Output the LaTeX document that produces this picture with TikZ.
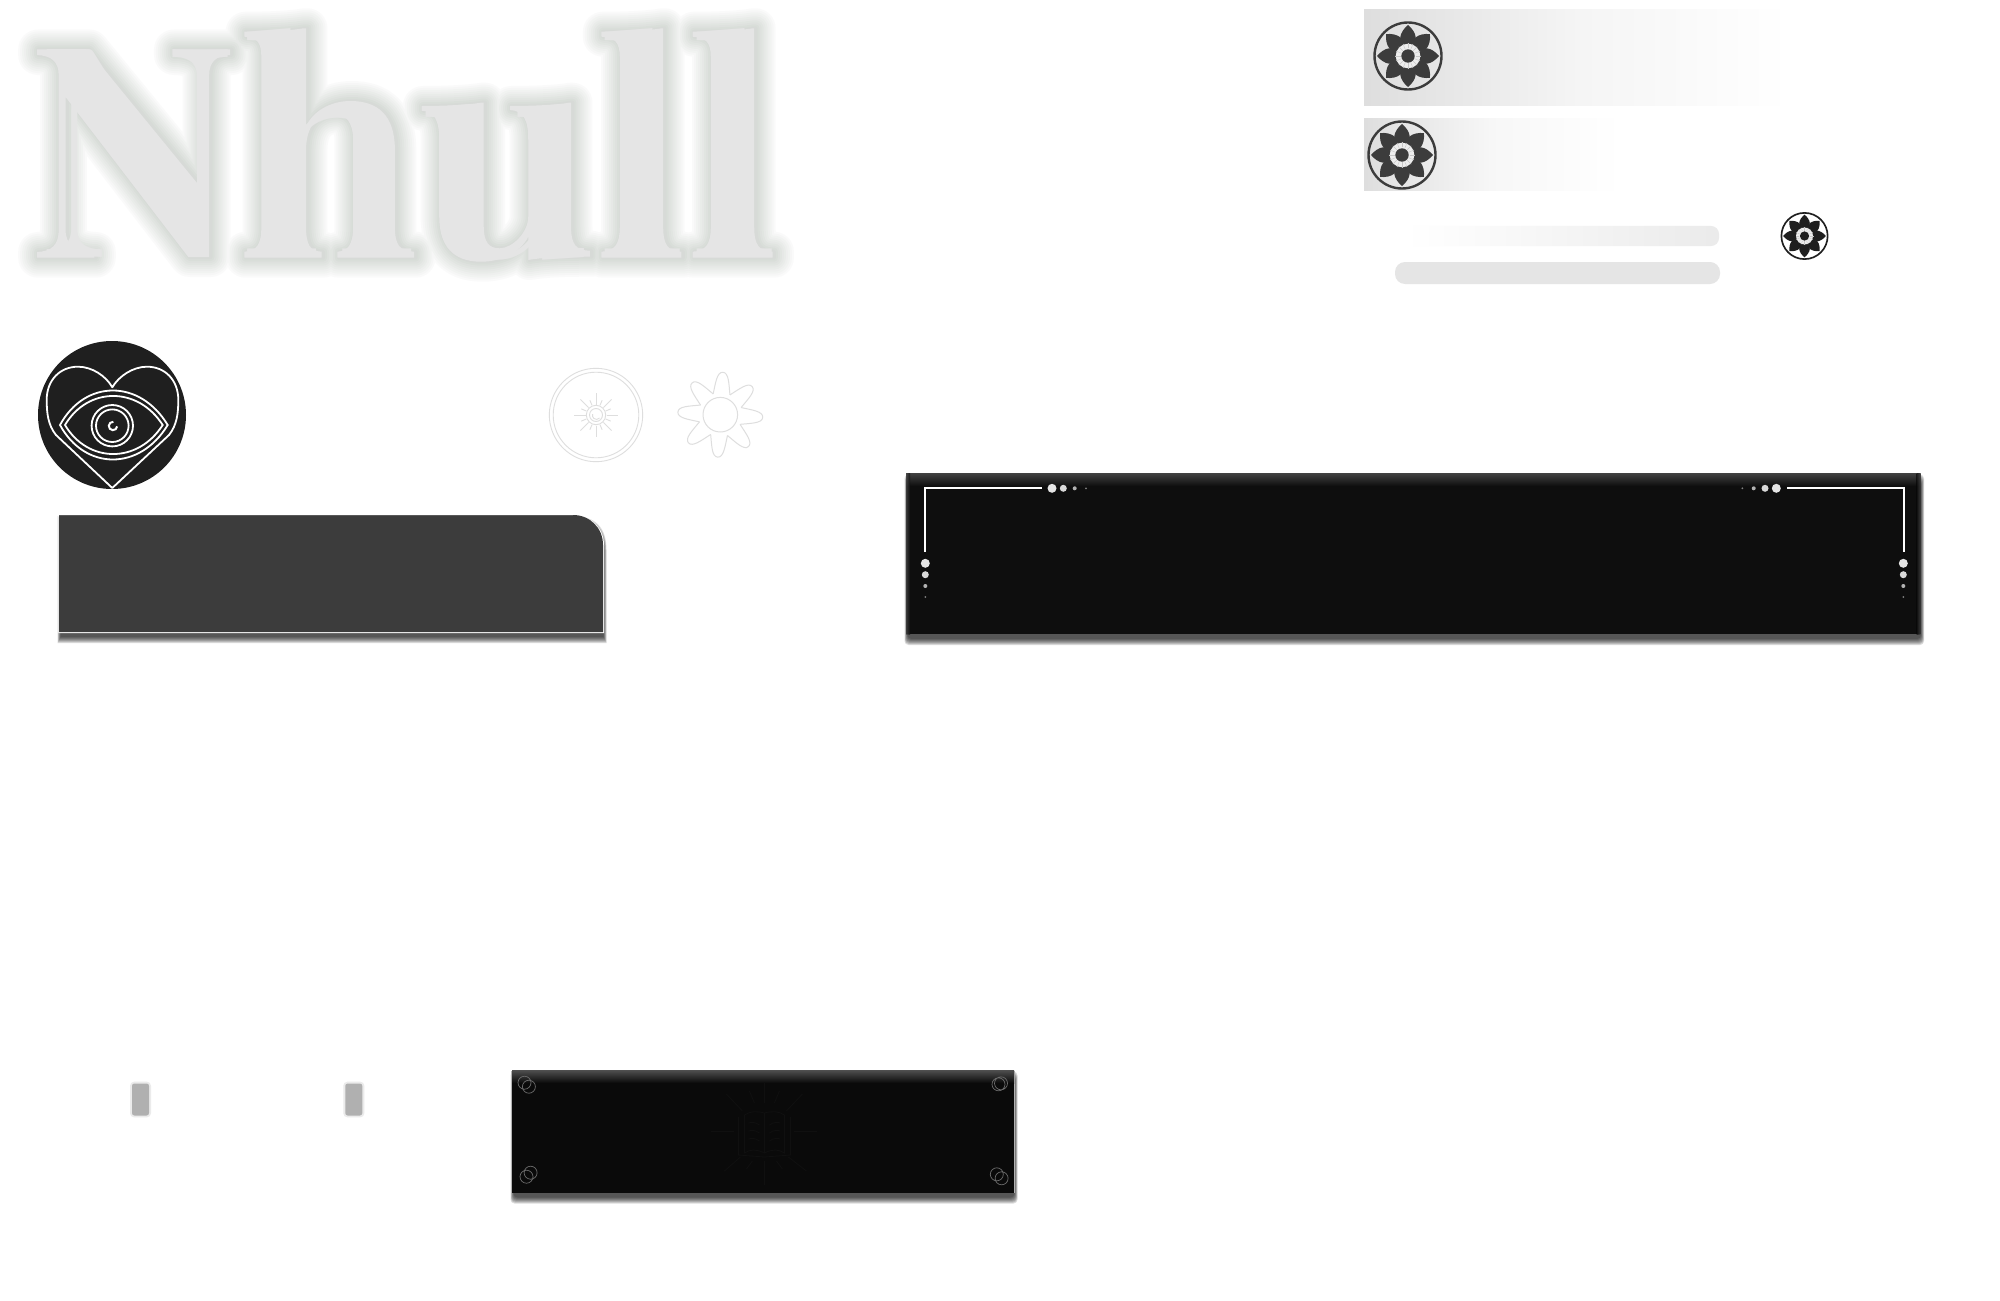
\documentclass[tikz,border=0pt]{standalone}
\usepackage{graphicx}
\usetikzlibrary{calc}
\definecolor{glow}{HTML}{7A9B7A}
\definecolor{glowb}{HTML}{7B7B7B}
\definecolor{wordgray}{HTML}{E5E5E5}
\definecolor{iconlight}{HTML}{DEDEDE}
\definecolor{panelgray}{HTML}{3C3C3C}
\definecolor{panelblack}{HTML}{0E0E0E}
\definecolor{panelblackb}{HTML}{0A0A0A}
\definecolor{faint}{HTML}{101010}
\newcommand\gl[3]{\resizebox{#1pt}{#2pt}{#3}}
\newcommand\softshadow[4]{%
  \foreach \e in {5,4,3,2,1,0,-1}
    \fill[black,opacity=.14,rounded corners=2pt] ({#1+1-.5*(\e)},{#2+6-(\e)}) rectangle ({#3+1+.5*(\e)},{#4+6+(\e)});}
\newcommand\flowericon[4]{%
  \begin{scope}[shift={(#1,#2)},scale=#3]
    \draw[#4,line width=#3*1.2pt] (0,0) circle[radius=33.5];
    \foreach \a in {0,45,...,315}
      \fill[#4,rotate=\a] (9,0) .. controls (13,-12) and (24,-8.5) .. (31,0) .. controls (24,8.5) and (13,12) .. (9,0) -- cycle;
    \fill[white!93!black] (0,0) circle[radius=12.3];
    \fill[#4] (0,0) circle[radius=6.7];
    \foreach \a in {0,22.5,...,337.5}
      \draw[gray!45,line width=#3*.2pt] (\a:7.5) -- (\a:13);
  \end{scope}}
\newcommand\lshape[1]{
  (605.3+#1,31.7) .. controls (625+#1,31.7) and (650+#1,31) .. (665.8+#1,28.3) -- (667.4+#1,28.3) -- (667.4+#1,226.7) .. controls (667.4+#1,245) and (672+#1,251) .. (685.8+#1,251.7) -- (685.8+#1,257.7) -- (605.3+#1,257.7) -- (605.3+#1,251.7) .. controls (618+#1,251) and (623.7+#1,245) .. (623.7+#1,226.7) -- (623.7+#1,56.7) .. controls (623.7+#1,42) and (618+#1,37) .. (605.3+#1,36.7) -- cycle}
\newcommand\nhullshapes{
  (37,49.5) -- (88.5,49.5) -- (202.6,188.3) -- (202.6,75) .. controls (202.6,62) and (192,55) .. (173.7,55) -- (173.7,49.5) -- (231.6,49.5) -- (231.6,55) .. controls (218,55) and (210.5,62) .. (210.5,75) -- (210.5,257) -- (189.5,257) -- (66,97) -- (66,230) .. controls (66,245) and (76,251.5) .. (95,252) -- (95,257.7) -- (37,257.7) -- (37,252) .. controls (52,251.5) and (59,245) .. (59,230) -- (59,75) .. controls (59,62) and (52,55.5) .. (37,55) -- cycle
  (245.8,31.7) .. controls (265,31.7) and (290,31) .. (305.3,28.3) -- (308,28.3) -- (308,126.7) .. controls (314,112) and (332,101) .. (352.6,101) .. controls (380,101) and (397.4,115) .. (397.4,150) -- (397.4,226.7) .. controls (397.4,245) and (402,251) .. (416.8,251.7) -- (416.8,257.7) -- (339.5,257.7) -- (339.5,251.7) .. controls (350,251) and (355.3,245) .. (355.3,226.7) -- (355.3,140) .. controls (355.3,122) and (348,114.3) .. (336.8,114.3) .. controls (320,114.3) and (308,125) .. (308,150) -- (308,226.7) .. controls (308,245) and (312,251) .. (323.7,251.7) -- (323.7,257.7) -- (245.8,257.7) -- (245.8,251.7) .. controls (258,251) and (263,245) .. (263,226.7) -- (263,56.7) .. controls (263,42) and (258,37) .. (245.8,36.7) -- cycle
  (424.2,106) .. controls (445,106) and (470,105) .. (484,102.7) -- (486.8,102.7) -- (486.8,226.7) .. controls (486.8,242) and (492,248.3) .. (502.6,248.3) .. controls (516,248.3) and (531.6,232) .. (531.6,216.7) -- (531.6,140) .. controls (531.6,120) and (527,110.7) .. (513,110) -- (513,106) .. controls (535,106) and (560,105) .. (572.6,102.7) -- (574.7,102.7) -- (574.7,226.7) .. controls (574.7,245) and (580,250.5) .. (593.7,250.7) -- (593.7,256.7) .. controls (572,256.7) and (548,257) .. (531.6,260) -- (531.6,236.7) .. controls (524,252) and (505,261.7) .. (484.2,261.7) .. controls (455,261.7) and (442,245) .. (442,216.7) -- (442,140) .. controls (442,120) and (437,111) .. (424.2,110.7) -- cycle
  \lshape{0} \lshape{91.6}}
\begin{document}
\begin{tikzpicture}[x=0.5pt,y=-0.5pt,line cap=butt]
\useasboundingbox (0,0) rectangle (2000,1300);
\fill[white] (0,0) rectangle (2000,1300);

% word with soft glow
\begin{scope}[xscale=.9937]
\begin{scope}[xshift=.7pt]
\foreach \w/\c in {2/glow,4/glowb,6/glow,8/glowb,10/glow,12/glowb,14/glow,16/glowb,18/glow,20/glowb}
  \draw[\c,opacity=.03,line width=\w pt,line join=round] \nhullshapes;
\end{scope}
\fill[wordgray] \nhullshapes;
\end{scope}
\node[anchor=base west,inner sep=0pt,text=wordgray,font=\fontsize{100}{100}\selectfont] (word) at (31.4,257.7)
  {\gl{106.3}{104}{N}\kern-4.5pt\gl{93.2}{114.5}{h}\kern-3.5pt\gl{89.9}{76.5}{u}\kern-1.5pt\gl{50.2}{114.5}{l}\kern-4.5pt\gl{50.2}{114.5}{l}};

% banners
\shade[left color=black!13,right color=white,middle color=black!4] (1364,10) rectangle (1790,106);
\shade[left color=black!13,right color=white,middle color=black!3] (1364,119) rectangle (1622,191);
\shade[left color=white,right color=black!8,middle color=black!4,rounded corners=4pt] (1405,226) rectangle (1719,246);
\fill[wordgray,rounded corners=5pt] (1395,262) rectangle (1720,284);
\flowericon{1408}{56}{1}{panelgray}
\flowericon{1402}{155}{1}{panelgray}
\flowericon{1804.5}{236}{0.69}{black!88}

% heart eye badge
\fill[black!88] (112,415) circle[radius=74];
\begin{scope}[white,line width=.9pt]
\draw[line join=round] (112.3,488) -- (56,435) .. controls (48,425) and (46.7,413) .. (46.7,400) .. controls (46.7,380) and (60,366.7) .. (78,366.7) .. controls (92,366.7) and (106,376) .. (112.3,387.3) .. controls (119,376) and (133,366.7) .. (147,366.7) .. controls (165,366.7) and (178.3,380) .. (178.3,400) .. controls (178.3,413) and (177,425) .. (169,435) -- cycle;
\draw (60,425) .. controls (85,379) and (140,379) .. (167.7,425) .. controls (140,471) and (85,471) .. (60,425) -- cycle;
\draw (65,425) .. controls (88,386.3) and (138,386.3) .. (162.7,425) .. controls (138,463.7) and (88,463.7) .. (65,425) -- cycle;
\draw (112.3,425.7) circle[radius=20.7];
\draw (112.3,425.7) circle[radius=16.3];
\draw[line width=1pt] ($(113,426)+(5:4.2)$) arc[start angle=5,end angle=275,radius=4.2];
\end{scope}

% sun icon
\begin{scope}[shift={(596,415)},iconlight,line width=.45pt]
\draw (0,0) circle[radius=46.7];
\draw (0,0) circle[radius=42.8];
\draw (0,0) circle[radius=9.7];
\draw (0,0) circle[radius=6.5];
\draw (3.5,3) arc[start angle=40,end angle=200,radius=4];
\foreach \a in {0,45,...,315} \draw (\a:10.5) -- (\a:22);
\foreach \a in {22.5,67.5,...,337.5} \draw (\a:10.5) -- (\a:16);
\end{scope}

% outline flower
\begin{scope}[shift={(720.3,414.7)},iconlight,line width=.5pt]
\draw (0,0) circle[radius=17.3];
\foreach \a in {41.5,86.5,...,356.5}
  \draw[rotate=\a] (-22.5:22) .. controls (-12:32) and (-8:43) .. (0:42.5) .. controls (8:43) and (12:32) .. (22.5:22);
\end{scope}

% grey panel
\foreach \e in {5,4,3,2,1,0,-1}
  \fill[black,opacity=.14] ({59+1-.5*(\e)},{515+6-(\e)}) -- ({603-30},{515+6-(\e)}) .. controls ({603-12+(\e)},{515+6-(\e)}) and ({603+1+.5*(\e)},{515+18-(\e)}) .. ({603+1+.5*(\e)},{515+35}) -- ({603+1+.5*(\e)},{632+6+(\e)}) -- ({59+1-.5*(\e)},{632+6+(\e)}) -- cycle;
\fill[white] (58.3,515) -- (573,515) .. controls (591,515) and (604,528) .. (604,545) -- (604,633) -- (58.3,633) -- cycle;
\fill[panelgray] (59,515) -- (573,515) .. controls (590,515) and (603,528) .. (603,545) -- (603,632) -- (59,632) -- cycle;
\draw[black!65,line width=.4pt] (59,515.4) -- (573,515.4);

% black panel with corners
\softshadow{906}{473.5}{1920.5}{634}
\fill[panelblack] (906,473.5) rectangle (1920.5,634);
\shade[top color=black!75,bottom color=panelblack] (906,473.5) rectangle (1920.5,486);
\shade[left color=black!70,right color=panelblack,opacity=.7] (906,473.5) rectangle (910,634);
\shade[left color=panelblack,right color=black!70,opacity=.7] (1916.5,473.5) rectangle (1920.5,634);
\begin{scope}[white,line width=1pt]
\draw (1041.7,488.3) -- (925,488.3) -- (925,551.7);
\draw (1787.3,488.3) -- (1904,488.3) -- (1904,551.7);
\end{scope}
\foreach \x/\r/\c in {1052/4.5/90,1063.3/3.5/85,1074.7/2/70,1086/1/50,1776.3/4.5/90,1765/3.5/85,1753.7/2/70,1742.3/1/50}
  \fill[white!\c!black] (\x,488.3) circle[radius=\r];
\foreach \y/\r/\c in {563.3/4.5/90,574.7/3.5/85,586/2/70,597/1/50}{
  \fill[white!\c!black] (925.3,\y) circle[radius=\r];
  \fill[white!\c!black] (1903.3,\y) circle[radius=\r];}

% lower black panel
\softshadow{512}{1070.5}{1014}{1192.5}
\fill[black!30] (511.3,1070.5) rectangle (1014.5,1193.2);
\fill[panelblackb] (512,1070.5) rectangle (1014,1192.5);
\shade[top color=black!70,bottom color=panelblackb] (512,1070.5) rectangle (1014,1083);
\begin{scope}[gray!85!black,line width=.35pt]
\draw (524.5,1082.7) circle[radius=6.5] (528.9,1086.7) circle[radius=6.5];
\draw (998.5,1084.3) circle[radius=6.5] (1001,1083.3) circle[radius=6.5];
\draw (526.5,1176.7) circle[radius=6.5] (530.6,1172.7) circle[radius=6.5];
\draw (996.8,1174.3) circle[radius=6.5] (1001.6,1178.3) circle[radius=6.5];
\end{scope}
% faint book
\begin{scope}[shift={(764.4,1131)},faint,line width=.4pt]
\draw (0,-18) .. controls (-8,-20) and (-14,-20) .. (-20,-16) -- (-20,22) .. controls (-14,18) and (-8,18) .. (0,22) .. controls (8,18) and (14,18) .. (20,22) -- (20,-16) .. controls (14,-20) and (8,-20) .. (0,-18) -- (0,22);
\draw (-26,-14) -- (-26,24) -- (0,26) -- (26,24) -- (26,-14);
\foreach \s in {-1,1}\foreach \h in {-6,2,10}
  \draw (\s*5,\h) .. controls (\s*9,\h-3) and (\s*13,\h-3) .. (\s*16,\h-2);
\draw (-30,0) -- (-53,0) (30,0) -- (53,0) (0,-28) -- (0,-48) (0,30) -- (0,54);
\draw (-22,-20) -- (-38,-37) (22,-20) -- (38,-37) (-24,26) -- (-40,40) (24,26) -- (42,40);
\draw (-10,-28) -- (-15,-40) (10,-28) -- (15,-40) (-12,30) -- (-18,38) (12,30) -- (18,38);
\end{scope}

% small bars
\foreach \x in {130,343.3}{
  \fill[black!8,rounded corners=2pt] (\x,1081.7) rectangle ({\x+21},1117.3);
  \fill[black!31,rounded corners=1.2pt] ({\x+2},1083.5) rectangle ({\x+19},1115.5);}
\end{tikzpicture}
\end{document}
